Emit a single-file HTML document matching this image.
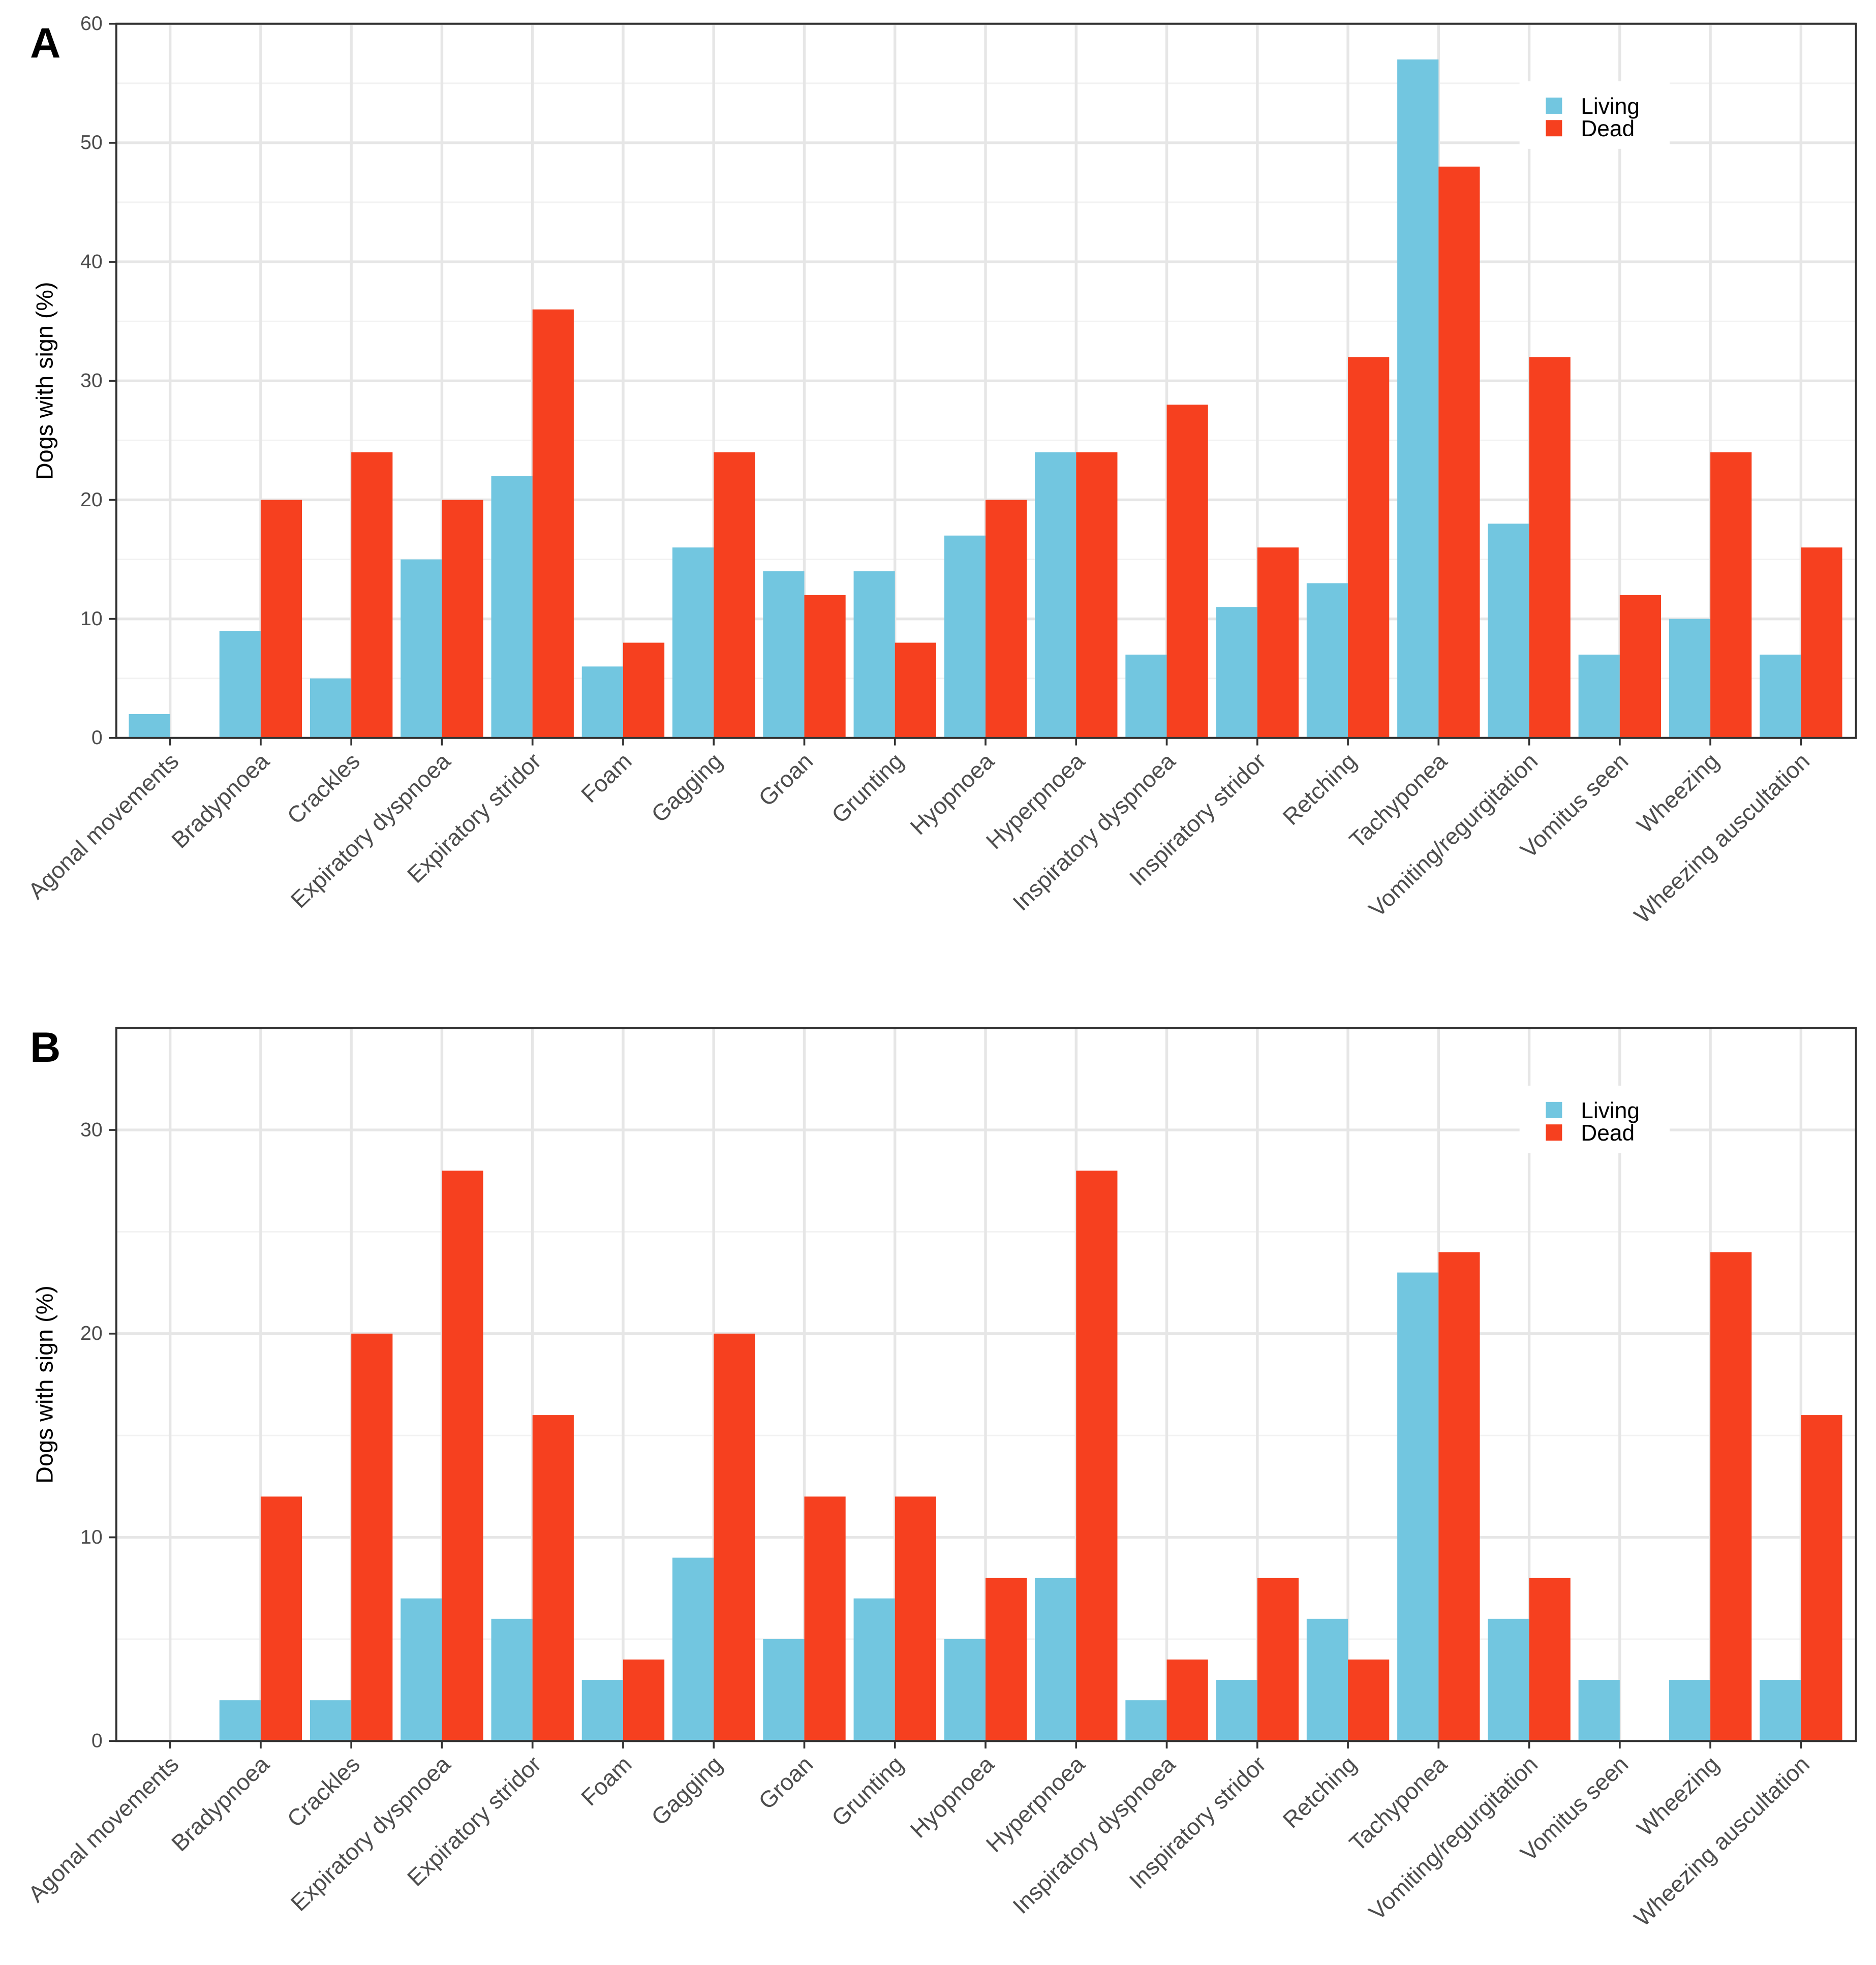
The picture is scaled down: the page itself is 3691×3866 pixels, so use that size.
<!DOCTYPE html>
<html><head><meta charset="utf-8">
<style>
html,body{margin:0;padding:0;background:#fff;}
svg{display:block;font-family:"Liberation Sans",Arial,sans-serif;}
</style></head>
<body>
<svg id="chart" width="3691" height="3866" viewBox="0 0 1500 1571.1" preserveAspectRatio="none" xmlns="http://www.w3.org/2000/svg">
<rect x="0" y="0" width="1500" height="1571.1" fill="#fff"/>
</svg>
<script>
const categories = ["Agonal movements","Bradypnoea","Crackles","Expiratory dyspnoea","Expiratory stridor","Foam","Gagging","Groan","Grunting","Hyopnoea","Hyperpnoea","Inspiratory dyspnoea","Inspiratory stridor","Retching","Tachyponea","Vomiting/regurgitation","Vomitus seen","Wheezing","Wheezing auscultation"];
const livingA = [2,9,5,15,22,6,16,14,14,17,24,7,11,13,57,18,7,10,7];
const deadA = [0,20,24,20,36,8,24,12,8,20,24,28,16,32,48,32,12,24,16];
const livingB = [0,2,2,7,6,3,9,5,7,5,8,2,3,6,23,6,3,3,3];
const deadB = [0,12,20,28,16,4,20,12,12,8,28,4,8,4,24,8,0,24,16];
const ticksA = [0,10,20,30,40,50,60];
const ticksB = [0,10,20,30];
const NS = "http://www.w3.org/2000/svg";
const svg = document.getElementById('chart');
function mk(tag, attrs, parent){const e=document.createElementNS(NS,tag);for(const k in attrs)e.setAttribute(k,attrs[k]);(parent||svg).appendChild(e);return e;}

function panel(opt){
  const g = mk('g',{});
  
  
  const L=93,R=1484,T=opt.top,B=opt.bottom;
  const y = v => B - (v/opt.max)*(B-T);
  const step=(1440-136)/18;
  const x = i => 136 + i*step;
  const bw = 33;
  for(let v=opt.minor; v<=opt.max; v+=opt.minor*2){
    const l=mk('line',{x1:L,x2:R,y1:y(v),y2:y(v),stroke:'#f2f2f2','stroke-width':1.2},g);
    
    
  }
  opt.ticks.forEach(v=>{
    const l=mk('line',{x1:L,x2:R,y1:y(v),y2:y(v),stroke:'#e6e6e6','stroke-width':2.2},g);
    
    
  });
  categories.forEach((c,i)=>{
    const l=mk('line',{x1:x(i),x2:x(i),y1:T,y2:B,stroke:'#e6e6e6','stroke-width':2.2},g);
    
    
  });
  const lb=mk('rect',{x:1215,y:T+46,width:120,height:54,fill:'#fff'},g);
  
  
  categories.forEach((c,i)=>{
    const a=mk('rect',{x:x(i)-bw,y:y(opt.living[i]),width:bw,height:B-y(opt.living[i]),fill:'#72c6e0'},g);
    
    
    const d=mk('rect',{x:x(i),y:y(opt.dead[i]),width:bw,height:B-y(opt.dead[i]),fill:'#f6401f'},g);
    
    
    const tk=mk('line',{x1:x(i),x2:x(i),y1:B,y2:B+6,stroke:'#333','stroke-width':1.5},g);
    
    
    const t=mk('text',{x:0,y:0,'font-size':18.5,fill:'#4d4d4d','text-anchor':'end',transform:`translate(${x(i)+8},${B+20}) rotate(-44)`},g);
    t.textContent=c;
    
    
  });
  opt.ticks.forEach(v=>{
    const tk=mk('line',{x1:L-6,x2:L,y1:y(v),y2:y(v),stroke:'#333','stroke-width':1.5},g);
    
    
    const t=mk('text',{x:L-11,y:y(v)+5,'font-size':16,fill:'#4d4d4d','text-anchor':'end'},g);
    t.textContent=v;
    
    
  });
  const fr=mk('rect',{x:L,y:T,width:R-L,height:B-T,fill:'none',stroke:'#333','stroke-width':1.6},g);
  
  
  const yt=mk('text',{x:0,y:0,'font-size':19,fill:'#000','text-anchor':'middle',transform:`translate(42,${(T+B)/2}) rotate(-90)`},g);
  yt.textContent='Dogs with sign (%)';
  
  
  const pl=mk('text',{x:24,y:T+27,'font-size':34,'font-weight':'bold',fill:'#000'},g);
  pl.textContent=opt.letter;
  
  
  const s1=mk('rect',{x:1236,y:T+59,width:13,height:13,fill:'#72c6e0'},g);
  
  
  const s2=mk('rect',{x:1236,y:T+77,width:13,height:13,fill:'#f6401f'},g);
  
  
  const t1=mk('text',{x:1264,y:T+72,'font-size':18,fill:'#000'},g);
  t1.textContent='Living';
  
  
  const t2=mk('text',{x:1264,y:T+90,'font-size':18,fill:'#000'},g);
  t2.textContent='Dead';
  
  
}
panel({name:'panel-a',letter:'A',top:19,bottom:590,max:60,minor:5,ticks:ticksA,living:livingA,dead:deadA});
panel({name:'panel-b',letter:'B',top:822,bottom:1392,max:35,minor:5,ticks:ticksB,living:livingB,dead:deadB});
</script>
</body></html>
